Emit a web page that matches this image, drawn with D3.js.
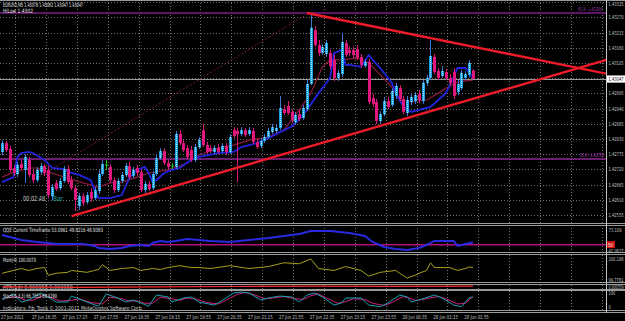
<!DOCTYPE html>
<html>
<head>
<meta charset="utf-8">
<script src="https://cdn.jsdelivr.net/npm/d3@7"></script>
<style>
body{margin:0;background:#000;}
svg{display:block;font-family:"DejaVu Sans Condensed","DejaVu Sans",sans-serif;}
</style>
</head>
<body>
<svg id="chart" width="625" height="321"></svg>
<script>
// EURUSD M5 candles (one entry per bar)
var barOpen = [1.42783,1.42815,1.42794,1.42725,1.42703,1.42739,1.42718,1.42754,1.42703,1.42681,1.42710,1.42732,1.42718,1.42623,1.42671,1.42652,1.42678,1.42721,1.42681,1.42652,1.42587,1.42623,1.42602,1.42638,1.42616,1.42642,1.42703,1.42736,1.42729,1.42681,1.42645,1.42678,1.42700,1.42732,1.42696,1.42725,1.42710,1.42645,1.42667,1.42652,1.42703,1.42761,1.42786,1.42743,1.42732,1.42729,1.42848,1.42815,1.42797,1.42790,1.42754,1.42801,1.42862,1.42808,1.42797,1.42783,1.42797,1.42786,1.42805,1.42783,1.42862,1.42859,1.42848,1.42862,1.42848,1.42859,1.42819,1.42805,1.42823,1.42837,1.42855,1.42859,1.42870,1.42938,1.42949,1.42928,1.42891,1.42920,1.42906,1.42938,1.43029,1.43224,1.43170,1.43141,1.43138,1.43141,1.43116,1.43051,1.43065,1.43177,1.43152,1.43152,1.43156,1.43127,1.43094,1.43109,1.42978,1.42964,1.42895,1.42920,1.42967,1.42953,1.42986,1.43014,1.42975,1.42924,1.42964,1.42967,1.42993,1.42967,1.43033,1.43051,1.43127,1.43076,1.43058,1.43072,1.43051,1.43072,1.43000,1.43014,1.43051,1.43062,1.43078];
var barHigh = [1.42826,1.42823,1.42805,1.42736,1.42747,1.42754,1.42775,1.42765,1.42718,1.42729,1.42743,1.42739,1.42732,1.42667,1.42681,1.42689,1.42732,1.42736,1.42696,1.42660,1.42634,1.42634,1.42638,1.42652,1.42656,1.42718,1.42754,1.42754,1.42739,1.42692,1.42689,1.42710,1.42743,1.42747,1.42729,1.42736,1.42721,1.42678,1.42678,1.42714,1.42772,1.42797,1.42797,1.42754,1.42743,1.42859,1.42862,1.42826,1.42808,1.42805,1.42812,1.42837,1.42884,1.42819,1.42808,1.42808,1.42812,1.42815,1.42815,1.42848,1.42873,1.42870,1.42873,1.42870,1.42873,1.42870,1.42830,1.42833,1.42848,1.42870,1.42884,1.42881,1.42986,1.42953,1.42967,1.42938,1.42928,1.42935,1.42953,1.43043,1.43279,1.43239,1.43188,1.43174,1.43188,1.43152,1.43134,1.43080,1.43214,1.43188,1.43167,1.43163,1.43170,1.43138,1.43119,1.43119,1.42993,1.42975,1.42931,1.42982,1.42982,1.43014,1.43033,1.43025,1.42986,1.42986,1.42993,1.43000,1.43007,1.43043,1.43062,1.43188,1.43138,1.43087,1.43094,1.43083,1.43065,1.43087,1.43043,1.43080,1.43076,1.43116,1.43082];
var barLow = [1.42772,1.42783,1.42710,1.42696,1.42692,1.42718,1.42671,1.42692,1.42671,1.42674,1.42700,1.42696,1.42616,1.42609,1.42642,1.42645,1.42671,1.42667,1.42645,1.42569,1.42573,1.42587,1.42594,1.42602,1.42609,1.42631,1.42696,1.42718,1.42671,1.42634,1.42638,1.42671,1.42692,1.42685,1.42689,1.42696,1.42638,1.42634,1.42642,1.42645,1.42696,1.42754,1.42736,1.42718,1.42721,1.42721,1.42808,1.42783,1.42757,1.42747,1.42747,1.42794,1.42801,1.42776,1.42779,1.42776,1.42776,1.42779,1.42772,1.42776,1.42833,1.42674,1.42841,1.42837,1.42841,1.42812,1.42794,1.42797,1.42815,1.42830,1.42848,1.42852,1.42862,1.42917,1.42917,1.42888,1.42881,1.42895,1.42899,1.42931,1.43025,1.43163,1.43130,1.43134,1.43127,1.43083,1.43040,1.43040,1.43054,1.43127,1.43130,1.43123,1.43116,1.43087,1.43087,1.42957,1.42946,1.42884,1.42884,1.42913,1.42938,1.42946,1.42975,1.42967,1.42920,1.42913,1.42953,1.42957,1.42960,1.42957,1.43022,1.43043,1.43065,1.43043,1.43051,1.43043,1.43022,1.42975,1.42989,1.43007,1.43043,1.43054,1.43047];
var barClose = [1.42815,1.42790,1.42718,1.42707,1.42736,1.42725,1.42765,1.42700,1.42681,1.42718,1.42732,1.42707,1.42627,1.42656,1.42649,1.42678,1.42721,1.42674,1.42652,1.42609,1.42623,1.42598,1.42627,1.42613,1.42645,1.42703,1.42739,1.42736,1.42681,1.42645,1.42678,1.42700,1.42732,1.42692,1.42718,1.42707,1.42645,1.42667,1.42649,1.42703,1.42761,1.42786,1.42743,1.42729,1.42732,1.42848,1.42815,1.42790,1.42765,1.42754,1.42801,1.42826,1.42808,1.42783,1.42786,1.42797,1.42783,1.42805,1.42783,1.42837,1.42841,1.42848,1.42862,1.42844,1.42862,1.42819,1.42801,1.42823,1.42837,1.42859,1.42873,1.42870,1.42942,1.42924,1.42924,1.42899,1.42917,1.42902,1.42942,1.43029,1.43232,1.43170,1.43141,1.43163,1.43177,1.43094,1.43051,1.43069,1.43181,1.43134,1.43141,1.43134,1.43123,1.43098,1.43109,1.42964,1.42957,1.42895,1.42920,1.42967,1.42946,1.43004,1.43022,1.42975,1.42928,1.42971,1.42982,1.42989,1.42971,1.43033,1.43051,1.43130,1.43072,1.43051,1.43076,1.43051,1.43033,1.42986,1.43029,1.43069,1.43065,1.43105,1.43047];

// main-window indicator lines (bar index, value)
var hiLowBars = [0,3,4,5,7,8,11,13,16,18,20,23,24,25,28,31,33,35,37,38,39,40,42,44,46,49,51,56,60,62,66,69,72,75,77,79,82,85,86,88,89,90,93,95,96,98,101,102,104,106,108,111,113,115,117,118,120,121,122];
var hiLowVals = [1.42674,1.42692,1.42765,1.42779,1.42783,1.42779,1.42754,1.42725,1.42721,1.42707,1.42700,1.42681,1.42645,1.42616,1.42616,1.42627,1.42689,1.42718,1.42729,1.42707,1.42674,1.42681,1.42707,1.42718,1.42725,1.42754,1.42765,1.42779,1.42783,1.42801,1.42815,1.42833,1.42855,1.42875,1.42900,1.42935,1.42996,1.43051,1.43141,1.43152,1.43098,1.43098,1.43091,1.43134,1.43116,1.43087,1.43033,1.42996,1.42946,1.42928,1.42935,1.42946,1.42971,1.42996,1.43054,1.43087,1.43087,1.43072,1.43051];
var maBars = [0,3,7,9,12,17,21,25,28,31,35,38,43,48,51,56,60,64,69,73,77,80,83,85,88,92,95,98,101,103,106,110,113,115,118,120,122];
var maVals = [1.42692,1.42710,1.42725,1.42725,1.42710,1.42689,1.42671,1.42656,1.42671,1.42674,1.42692,1.42707,1.42718,1.42743,1.42772,1.42797,1.42808,1.42826,1.42837,1.42862,1.42935,1.42996,1.43091,1.43116,1.43116,1.43123,1.43105,1.43062,1.43018,1.42971,1.42964,1.42971,1.42996,1.43014,1.43036,1.43040,1.43043];

// drawn objects: trend lines and fibo levels
var upperTrendBars = [79,157], upperTrendVals = [1.43286,1.43065];
var lowerTrendBars = [18,157], lowerTrendVals = [1.42551,1.43118];
var fiboTrendBars = [7,79], fiboTrendVals = [1.42671,1.43282];
var fiboRatios = ["61.8","23.6"];
var fiboPrices = [1.43286,1.42758];

// sub-window indicators (bar index, value)
var qqeBars = [0,3,5,9,12,14,18,21,24,25,28,31,33,36,38,39,41,43,45,48,51,54,59,64,69,73,77,80,85,90,94,96,99,102,105,108,110,112,117,118,120,122];
var qqeVals = [64.2,59.8,56.8,53.9,52.4,50.9,50.9,50.9,48.0,45.0,43.5,45.0,48.0,49.5,48.0,52.4,55.4,53.9,55.4,58.3,56.8,55.4,53.9,56.8,59.8,62.8,65.7,70.2,70.2,67.2,62.8,53.9,46.5,43.5,42.1,45.0,49.5,55.4,55.4,48.0,50.9,53.1];
var momBars = [0,3,5,7,9,11,12,14,17,18,22,25,26,28,31,34,36,39,41,43,46,49,51,54,59,64,69,73,77,80,82,86,89,93,95,98,102,103,105,107,108,110,111,112,116,118,120,121,122];
var momVals = [99.901,99.954,99.990,99.954,99.990,100.008,99.865,99.901,99.919,99.954,99.919,99.972,100.061,99.954,99.990,100.008,99.954,99.990,99.972,100.008,100.043,100.008,100.008,99.990,100.043,99.990,100.026,100.097,100.079,100.168,99.990,99.954,100.026,99.954,99.847,99.919,99.954,99.901,99.812,99.865,99.901,99.954,100.097,100.008,100.008,99.954,99.990,100.020,100.007];
var atrBars = [0,20,40,60,80,100,122];
var atrVals = [0.000340,0.000332,0.000341,0.000349,0.000358,0.000352,0.000355];
var stochBars = [0,3,5,7,10,12,14,17,18,22,25,27,30,32,34,36,38,40,43,44,47,49,51,55,56,60,62,64,67,69,72,75,77,79,81,83,86,88,89,93,95,98,100,103,105,106,108,112,114,117,119,121,122];
var stochMain = [47,87,33,47,93,67,33,33,73,33,5,87,60,33,47,27,5,80,67,33,60,67,33,13,27,93,100,93,47,60,73,67,33,80,93,67,13,27,60,60,13,2,27,80,67,33,47,80,60,13,2,60,66.76];
var signalBars = [0,4,6,8,11,13,15,18,20,23,26,28,31,33,35,37,39,41,44,46,48,50,53,56,58,61,63,65,68,70,73,76,78,80,82,84,87,89,91,94,96,99,101,104,106,107,109,113,115,118,120,122];
var stochSignal = [55,70,45,45,80,60,40,45,55,30,20,65,55,40,40,25,25,65,55,45,60,55,30,20,45,85,97,85,55,60,70,55,50,75,88,60,25,35,55,50,25,10,30,70,55,45,50,70,55,20,25,69.33];

// axis labels
var priceTicks = [1.43325,1.43270,1.43215,1.43160,1.43105,1.43050,1.42995,1.42940,1.42885,1.42830,1.42775,1.42720,1.42665,1.42610,1.42555];
var timeLabels = ["27 Jun 2011","27 Jun 16:35","27 Jun 17:15","27 Jun 17:55","27 Jun 18:35","27 Jun 19:15","27 Jun 19:55","27 Jun 20:35","27 Jun 21:15","27 Jun 21:55","27 Jun 22:35","27 Jun 23:15","27 Jun 23:55","28 Jun 00:35","28 Jun 01:15","28 Jun 01:55"];
var lastPrice = 1.43047;

var svg = d3.select("#chart");
var plotR = 606;
var txt = "#c8c8c8";

// squeeze text to the narrow terminal font width
var fit = function(sel, w){
  return sel.attr("textLength", w).attr("lengthAdjust","spacingAndGlyphs");
};
var label = function(xp, yp, s, w, size, col){
  return fit(svg.append("text").attr("x",xp).attr("y",yp).attr("font-size",size+"px")
    .attr("fill",col).text(s), w);
};

svg.append("rect").attr("width",625).attr("height",321).attr("fill","#000");

svg.append("defs").append("clipPath").attr("id","mainClip").append("rect")
  .attr("x",0).attr("y",0).attr("width",plotR).attr("height",223);

var x = d3.scaleLinear().domain([0,156]).range([2,604.2]);
var y = d3.scaleLinear().domain([1.42526,1.43333]).range([223,0]);
var yQqe = d3.scaleLinear().domain([42.0627,73.109]).range([250,229]);
var yMom = d3.scaleLinear().domain([99.7761,100.186]).range([280,258]);
var yAtr = d3.scaleLinear().domain([0.00030,0.000359]).range([289,286]);
var ySto = d3.scaleLinear().domain([0,100]).range([307,292]);

// grid
var gridK = d3.range(20);
svg.append("g").selectAll("line").data(gridK).join("line")
  .attr("x1",function(k){return Math.round(x(8*k+3.4))+0.5;})
  .attr("x2",function(k){return Math.round(x(8*k+3.4))+0.5;})
  .attr("y1",0).attr("y2",311)
  .attr("stroke","#6e6e6e").attr("stroke-dasharray","1,2");
svg.append("g").selectAll("line").data(priceTicks).join("line")
  .attr("x1",0).attr("x2",plotR)
  .attr("y1",function(d){return Math.round(y(d))+0.5;})
  .attr("y2",function(d){return Math.round(y(d))+0.5;})
  .attr("stroke","#6e6e6e").attr("stroke-dasharray","1,2");

var main = svg.append("g").attr("clip-path","url(#mainClip)");

// fibo horizontal levels
main.selectAll(".fib").data(fiboPrices).join("line").attr("class","fib")
  .attr("x1",0).attr("x2",plotR)
  .attr("y1",function(d){return y(d);}).attr("y2",function(d){return y(d);})
  .attr("stroke",function(d,i){return i==0?"#5e1566":"#8e2a96";})
  .attr("stroke-width",function(d,i){return i==0?2:1.5;});

// current price line
main.append("line").attr("x1",0).attr("x2",plotR)
  .attr("y1",Math.round(y(lastPrice))+0.5).attr("y2",Math.round(y(lastPrice))+0.5)
  .attr("stroke","#9a9a9a");

var lineOf = function(bars, vals, ys){
  return d3.line().x(function(d){return x(d);}).y(function(d,i){return ys(vals[i]);})(bars);
};
// fibo dotted trend
main.append("path").attr("d",lineOf(fiboTrendBars,fiboTrendVals,y))
  .attr("fill","none").attr("stroke","#7a1f2c").attr("stroke-dasharray","2,2");

// indicator lines on price
main.append("path").attr("d",lineOf(maBars,maVals,y))
  .attr("fill","none").attr("stroke","#8a1a3c").attr("stroke-width",1.2);
main.append("path").attr("d",lineOf(hiLowBars,hiLowVals,y))
  .attr("fill","none").attr("stroke","#2424e0").attr("stroke-width",1.8);

// candles
var bars = d3.range(barOpen.length);
var cg = main.append("g");
cg.selectAll(".wick").data(bars).join("line").attr("class","wick")
  .attr("x1",function(i){return Math.round(x(i))+0.5;})
  .attr("x2",function(i){return Math.round(x(i))+0.5;})
  .attr("y1",function(i){return y(barHigh[i]);})
  .attr("y2",function(i){return y(barLow[i]);})
  .attr("stroke",function(i){
    if(barClose[i]==barOpen[i]) return "#20c020";
    return barClose[i]>barOpen[i]?"#3a78d8":"#d8187a";});
cg.selectAll(".body").data(bars.filter(function(i){return barClose[i]!=barOpen[i];})).join("rect").attr("class","body")
  .attr("x",function(i){return Math.round(x(i))-1;})
  .attr("width",3)
  .attr("y",function(i){return y(Math.max(barOpen[i],barClose[i]));})
  .attr("height",function(i){return Math.max(1,Math.abs(y(barOpen[i])-y(barClose[i])));})
  .attr("fill",function(i){return barClose[i]>barOpen[i]?"#1f9ee0":"#e0177d";});
cg.selectAll(".dots").data(bars.filter(function(i){return barClose[i]>barOpen[i];})).join("line").attr("class","dots")
  .attr("x1",function(i){return Math.round(x(i))+0.5;})
  .attr("x2",function(i){return Math.round(x(i))+0.5;})
  .attr("y1",function(i){return y(barClose[i]);})
  .attr("y2",function(i){return y(barOpen[i]);})
  .attr("stroke","#bdeeff").attr("stroke-dasharray","1,1");
cg.selectAll(".doji").data(bars.filter(function(i){return barClose[i]==barOpen[i];})).join("line").attr("class","doji")
  .attr("x1",function(i){return Math.round(x(i))-1;})
  .attr("x2",function(i){return Math.round(x(i))+2;})
  .attr("y1",function(i){return y(barClose[i]);})
  .attr("y2",function(i){return y(barClose[i]);})
  .attr("stroke","#20c020");

// trend lines
[[upperTrendBars,upperTrendVals],[lowerTrendBars,lowerTrendVals]].forEach(function(t){
  main.append("path").attr("d",lineOf(t[0],t[1],y))
    .attr("fill","none").attr("stroke","#ee1c2a").attr("stroke-width",2.4);
});

// fibo labels
fiboPrices.forEach(function(d,i){
  label(i==0?578:580, y(d)-1.5, fiboRatios[i]+" - "+d.toFixed(5), 24, 5.5, i==0?"#a23cb0":"#b43cc0");
});

// header texts
label(3,6.5,"EURUSD,M5  "+barOpen[122].toFixed(5)+" "+barHigh[122].toFixed(5)+" "+barLow[122].toFixed(5)+" "+barClose[122].toFixed(5),80,5.8,"#e0e0e0");
label(3,13,"HiLow 1.4302",30,5.8,"#e0e0e0");
label(23,201,"00:02:48",22,7,"#c8c8c8");
label(53,201,"Bar",10,7,"#1fa8a0");

// QQE window
svg.append("line").attr("x1",0).attr("x2",plotR).attr("y1",yQqe(50)).attr("y2",yQqe(50))
  .attr("stroke","#b0107a").attr("stroke-width",1.5);
svg.append("path").attr("d",lineOf(qqeBars,qqeVals,yQqe))
  .attr("fill","none").attr("stroke","#2a2ae0").attr("stroke-width",2);
label(3,232,"QQE Current Timeframe 53.0961 49.8216 48.9383",100,5.8,"#e0e0e0");

// Momentum window
svg.append("path").attr("d",lineOf(momBars,momVals,yMom))
  .attr("fill","none").attr("stroke","#a6a01e").attr("stroke-width",1);
label(3,262,"Mom(4) 100.0070",33,5.8,"#e0e0e0");

// small window
label(3,289,"ATR(14) 0.000355 0.000359",70,5,"#d8d8d8");
svg.append("path").attr("d",lineOf(atrBars,atrVals,yAtr))
  .attr("fill","none").attr("stroke","#ff2a2a").attr("stroke-width",1.2);

// Stochastic window
svg.append("path").attr("d",lineOf(signalBars,stochSignal,ySto))
  .attr("fill","none").attr("stroke","#d0207e").attr("stroke-width",1);
svg.append("path").attr("d",lineOf(stochBars,stochMain,ySto))
  .attr("fill","none").attr("stroke","#1aa0b0").attr("stroke-width",1);
label(3,297.5,"Stoch(5,3,3) 66.7553 69.3290",54,5.8,"#e0e0e0");
label(3,309.5,"Indicators: Fib_Tools  \u00a9 2001-2011 MetaQuotes Software Corp.",140,5.5,"#d0d0d0");

// window separators
[223.5,225.5,252.5,254.5,282.5,284.5,289.5,290.5,310.5,312.5].forEach(function(v){
  svg.append("line").attr("x1",0).attr("x2",625).attr("y1",v).attr("y2",v)
    .attr("stroke","#9a9a9a");
});
svg.append("line").attr("x1",0).attr("x2",625).attr("y1",0.5).attr("y2",0.5).attr("stroke","#9a9a9a");
svg.append("line").attr("x1",plotR+0.5).attr("x2",plotR+0.5).attr("y1",0).attr("y2",313).attr("stroke","#c8c8c8");

// right price axis
priceTicks.forEach(function(d){
  label(608.5, Math.max(5.5, y(d)+2), d.toFixed(5), 15, 5.5, txt);
});
svg.append("rect").attr("x",607).attr("y",y(lastPrice)-3.6).attr("width",18).attr("height",7.2).attr("fill","#fff");
label(608.5, y(lastPrice)+2, lastPrice.toFixed(5), 15, 5.5, "#000");

// sub-window axis labels
var subLabels = [["73.109",yQqe(73.109)+1],["42.0627",yQqe(42.0627)+1],["100.186",yMom(100.186)+1],["99.7761",yMom(99.7761)],["0.000359",yAtr(0.000359)+1],["100",ySto(100)+1],["0",ySto(0)]];
subLabels.forEach(function(d){
  label(608.5, d[1]+2, d[0], Math.min(15, d[0].length*2.2), 5.5, txt);
});
svg.append("rect").attr("x",607).attr("y",yQqe(50)-3.5).attr("width",8).attr("height",7).attr("fill","#d01818");
label(608, yQqe(50)+2, "50", 5, 5, "#fff");

// time axis
timeLabels.forEach(function(d,k){
  label(x(8*k)-1, 319, d, d.length*2.05, 5.5, txt);
});
</script>
</body>
</html>
